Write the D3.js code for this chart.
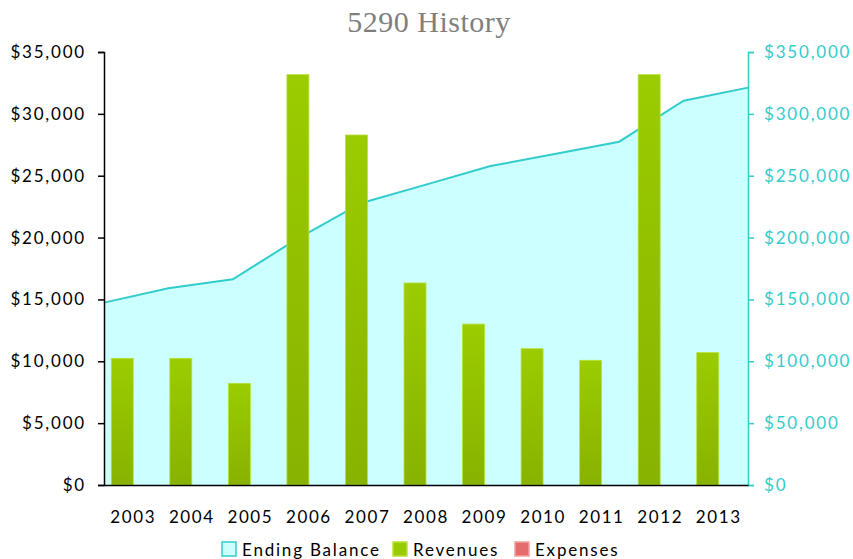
<!DOCTYPE html>
<html>
<head>
<meta charset="utf-8">
<script src="https://cdn.jsdelivr.net/npm/d3@7"></script>
<style>
  body { margin: 0; background: #fff; }
  #chart { width: 853px; height: 559px; }
</style>
</head>
<body>
<div id="chart"></div>
<script>
const years = ['2003', '2004', '2005', '2006', '2007', '2008', '2009', '2010', '2011', '2012', '2013'];
const endingBalance = [147400, 159000, 166300, 198900, 228000, 242800, 257800, 267500, 277500, 310600, 321200];
const revenues = [10240, 10240, 8220, 33170, 28290, 16330, 13010, 11020, 10080, 33170, 10700];
const expenses = [0, 0, 0, 0, 0, 0, 0, 0, 0, 0, 0];
const leftTicks = [0, 5000, 10000, 15000, 20000, 25000, 30000, 35000];
const rightTicks = [0, 50000, 100000, 150000, 200000, 250000, 300000, 350000];

const width = 853, height = 559;
const margin = { top: 52, right: 105, bottom: 74, left: 104 };
const font = 'Lato, "Open Sans", sans-serif';
const cyan = '#33cccc';

const svg = d3.select('#chart').append('svg')
    .attr('width', width)
    .attr('height', height);

const defs = svg.append('defs');
const grad = defs.append('linearGradient')
    .attr('id', 'barGrad')
    .attr('x1', 0).attr('y1', 0).attr('x2', 0).attr('y2', 1);
grad.append('stop').attr('offset', '0%').attr('stop-color', '#9bcc00');
grad.append('stop').attr('offset', '100%').attr('stop-color', '#88b200');

const x = d3.scaleBand()
    .domain(years)
    .range([margin.left, width - margin.right])
    .paddingInner(0)
    .paddingOuter(0);

const xPoint = d3.scalePoint()
    .domain(years)
    .range([margin.left, width - margin.right]);

const yLeft = d3.scaleLinear()
    .domain([0, 35000])
    .range([height - margin.bottom, margin.top]);

const yRight = d3.scaleLinear()
    .domain([0, 350000])
    .range([height - margin.bottom, margin.top]);

// area for ending balance, behind the bars
const area = d3.area()
    .x((d, i) => xPoint(years[i]))
    .y0(yRight(0))
    .y1(d => yRight(d));

const line = d3.line()
    .x((d, i) => xPoint(years[i]))
    .y(d => yRight(d));

svg.append('path')
    .datum(endingBalance)
    .attr('d', area)
    .attr('fill', '#ccffff');

svg.append('path')
    .datum(endingBalance)
    .attr('d', line)
    .attr('fill', 'none')
    .attr('stroke', cyan)
    .attr('stroke-width', 2);

// grouped bars: revenues and expenses
const group = d3.scaleBand()
    .domain(['rev', 'exp'])
    .range([0, x.bandwidth()])
    .paddingOuter(0.33)
    .paddingInner(0);

svg.append('g')
    .selectAll('rect')
    .data(revenues)
    .join('rect')
    .attr('x', (d, i) => x(years[i]) + group('rev'))
    .attr('y', d => yLeft(d))
    .attr('width', group.bandwidth())
    .attr('height', d => yLeft(0) - yLeft(d))
    .attr('fill', 'url(#barGrad)')
    .attr('stroke', '#b9e23a')
    .attr('stroke-width', 0.8);

svg.append('g')
    .selectAll('rect')
    .data(expenses)
    .join('rect')
    .attr('x', (d, i) => x(years[i]) + group('exp'))
    .attr('y', d => yLeft(d))
    .attr('width', group.bandwidth())
    .attr('height', d => yLeft(0) - yLeft(d))
    .attr('fill', '#e46c6c');

// left axis
svg.append('g')
    .attr('transform', `translate(${margin.left},0)`)
    .call(d3.axisLeft(yLeft).tickValues(leftTicks).tickSize(6).tickSizeOuter(6)
        .tickFormat(d => '$' + d3.format(',')(d)))
    .call(g => g.selectAll('path, line').attr('stroke', '#000').attr('stroke-width', 1.5))
    .call(g => g.selectAll('text')
        .attr('font-family', font).attr('font-size', 17).attr('letter-spacing', 1.8)
        .attr('fill', '#000').attr('x', -18));

// right axis
svg.append('g')
    .attr('transform', `translate(${width - margin.right},0)`)
    .call(d3.axisRight(yRight).tickValues(rightTicks).tickSize(6).tickSizeOuter(6)
        .tickFormat(d => '$' + d3.format(',')(d)))
    .call(g => g.selectAll('path, line').attr('stroke', cyan).attr('stroke-width', 1.5))
    .call(g => g.selectAll('text')
        .attr('font-family', font).attr('font-size', 17).attr('letter-spacing', 1.8)
        .attr('fill', cyan).attr('x', 16));

// x axis
svg.append('g')
    .attr('transform', `translate(0,${height - margin.bottom})`)
    .call(d3.axisBottom(x).tickSize(0).tickPadding(26))
    .call(g => g.select('.domain').attr('stroke', '#000').attr('stroke-width', 1.5))
    .call(g => g.selectAll('text')
        .attr('font-family', font).attr('font-size', 17).attr('letter-spacing', 1.6)
        .attr('fill', '#000'));

// title
svg.append('text')
    .attr('x', 429)
    .attr('y', 32)
    .attr('text-anchor', 'middle')
    .attr('font-family', '"Liberation Serif", "DejaVu Serif", serif')
    .attr('font-size', 30)
    .attr('letter-spacing', 0.5)
    .attr('fill', '#7f7f7f')
    .text('5290 History');

// legend
const legendItems = [
    { name: 'Ending Balance', fill: '#ccffff', stroke: cyan, x: 222 },
    { name: 'Revenues', fill: '#99cc00', stroke: '#b9e23a', x: 393 },
    { name: 'Expenses', fill: '#e46c6c', stroke: '#f4a0a0', x: 515 }
];
const legend = svg.append('g').attr('transform', 'translate(0,542)');
legend.selectAll('rect')
    .data(legendItems)
    .join('rect')
    .attr('x', d => d.x)
    .attr('y', 0)
    .attr('width', 14)
    .attr('height', 14)
    .attr('fill', d => d.fill)
    .attr('stroke', d => d.stroke)
    .attr('stroke-width', 1.5);
legend.selectAll('text')
    .data(legendItems)
    .join('text')
    .attr('x', d => d.x + 20)
    .attr('y', 14)
    .attr('font-family', font)
    .attr('font-size', 17)
    .attr('letter-spacing', 1.8)
    .attr('fill', '#000')
    .text(d => d.name);
</script>
</body>
</html>
